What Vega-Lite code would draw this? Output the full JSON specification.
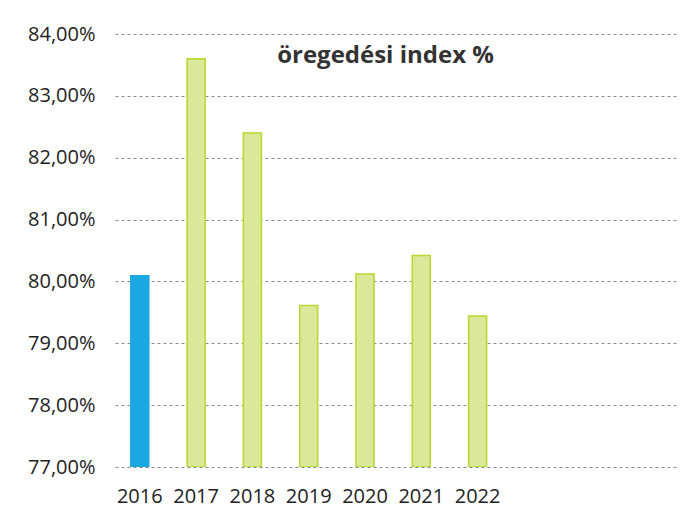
{
  "$schema": "https://vega.github.io/schema/vega-lite/v6.json",
  "autosize": {"type": "none"},
  "padding": {"left": 115, "top": 34, "right": 8, "bottom": 46},
  "width": 563,
  "height": 433,
  "background": "white",
  "title": {"text": "öregedési index %", "font": "Open Sans", "fontSize": 24, "fontWeight": "bold", "color": "#333333", "anchor": "middle", "dx": -11, "dy": 24, "offset": -20},
  "data": {"values": [
    {"year": "2016", "value": 80.09, "kind": "base"},
    {"year": "2017", "value": 83.60, "kind": "other"},
    {"year": "2018", "value": 82.40, "kind": "other"},
    {"year": "2019", "value": 79.61, "kind": "other"},
    {"year": "2020", "value": 80.12, "kind": "other"},
    {"year": "2021", "value": 80.42, "kind": "other"},
    {"year": "2022", "value": 79.44, "kind": "other"}
  ]},
  "mark": {"type": "bar", "strokeWidth": 1.5, "width": 18, "clip": true},
  "encoding": {
    "x": {
      "field": "year", "type": "ordinal",
      "scale": {"domain": ["2016","2017","2018","2019","2020","2021","2022","2023","2024","2025"], "paddingInner": 0.66, "paddingOuter": 0.33, "align": 0.41},
      "axis": {"title": null, "labelAngle": 0, "domain": false, "ticks": false, "labelFont": "Open Sans", "labelFontSize": 20, "labelColor": "#222222", "labelPadding": 19, "labelExpr": "toNumber(datum.value) > 2022 ? '' : datum.value"}
    },
    "y": {
      "field": "value", "type": "quantitative",
      "scale": {"domain": [77, 84], "zero": false, "nice": false},
      "axis": {"title": null, "values": [77,78,79,80,81,82,83,84], "domain": false, "ticks": false, "labelFont": "Open Sans", "labelFontSize": 20, "labelColor": "#222222", "labelPadding": 20, "labelExpr": "replace(format(datum.value, '.2f'), '.', ',') + '%'", "grid": true, "gridColor": "#8a8a8a", "gridDash": [3, 3], "gridWidth": 1}
    },
    "y2": {"datum": 77},
    "fill": {"field": "kind", "type": "nominal", "scale": {"domain": ["base", "other"], "range": ["#1ba8e0", "#dbe89a"]}, "legend": null},
    "stroke": {"field": "kind", "type": "nominal", "scale": {"domain": ["base", "other"], "range": ["#1ba8e0", "#b5d82a"]}, "legend": null}
  },
  "config": {"view": {"stroke": null}}
}
